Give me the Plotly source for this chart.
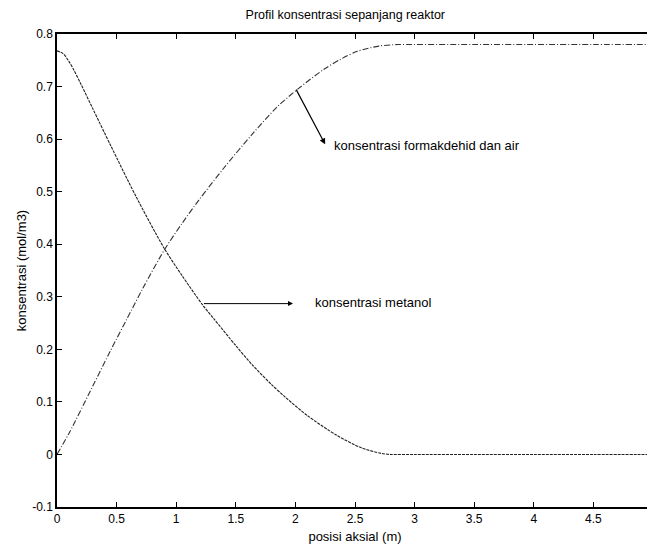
import plotly.graph_objects as go

# --- data ---
x_metanol = [0, 0.05, 0.1, 0.14, 0.2, 0.3, 0.45, 0.66, 0.9, 1.05, 1.22, 1.32, 1.5, 1.64,
             1.8, 1.92, 2.1, 2.35, 2.55, 2.72, 2.8, 3.0, 3.5, 4.0, 4.5, 5.0]
y_metanol = [0.768, 0.763, 0.748, 0.732, 0.705, 0.658, 0.588, 0.492, 0.392, 0.340, 0.285, 0.257,
             0.207, 0.170, 0.133, 0.108, 0.074, 0.036, 0.013, 0.002, 0.0, 0.0, 0.0, 0.0, 0.0, 0.0]

x_formal = [0, 0.1, 0.3, 0.45, 0.58, 0.72, 0.9, 1.05, 1.19, 1.4, 1.64, 1.85, 2.03, 2.24, 2.38,
            2.52, 2.7, 2.86, 3.0, 3.5, 4.0, 4.5, 5.0]
y_formal = [0.0, 0.040, 0.130, 0.198, 0.255, 0.316, 0.389, 0.440, 0.484, 0.545, 0.610, 0.662,
            0.697, 0.733, 0.752, 0.767, 0.777, 0.780, 0.780, 0.780, 0.780, 0.780, 0.780]

x_tickvals = [0, 0.5, 1, 1.5, 2, 2.5, 3, 3.5, 4, 4.5]
x_ticktext = ["0", "0.5", "1", "1.5", "2", "2.5", "3", "3.5", "4", "4.5"]
y_tickvals = [-0.1, 0, 0.1, 0.2, 0.3, 0.4, 0.5, 0.6, 0.7, 0.8]
y_ticktext = ["-0.1", "0", "0.1", "0.2", "0.3", "0.4", "0.5", "0.6", "0.7", "0.8"]

title_text = "Profil konsentrasi sepanjang reaktor"
xlabel = "posisi aksial (m)"
ylabel = "konsentrasi (mol/m3)"
label_metanol = "konsentrasi metanol"
label_formal = "konsentrasi formakdehid dan air"

FONT = "Liberation Sans, Arial, sans-serif"

fig = go.Figure()
fig.add_trace(go.Scatter(x=x_metanol, y=y_metanol, mode="lines", line_shape="spline",
                         line=dict(color="#222222", width=1.1, dash="3px,1px", smoothing=0.8),
                         name="metanol"))
fig.add_trace(go.Scatter(x=x_formal, y=y_formal, mode="lines", line_shape="spline",
                         line=dict(color="#333333", width=1.1, dash="6px,2px,1px,2px", smoothing=0.8),
                         name="formaldehid"))

# arrows
fig.add_annotation(x=1.98, y=0.287, ax=1.22, ay=0.287, xref="x", yref="y", axref="x", ayref="y",
                   showarrow=True, arrowhead=2, arrowsize=1, arrowwidth=1, arrowcolor="black", text="")
fig.add_annotation(x=2.25, y=0.59, ax=2.0, ay=0.697, xref="x", yref="y", axref="x", ayref="y",
                   showarrow=True, arrowhead=2, arrowsize=1, arrowwidth=1.2, arrowcolor="black", text="")
fig.add_annotation(x=2.15, y=0.289, text=label_metanol, showarrow=False, xanchor="left",
                   font=dict(family=FONT, size=13, color="black"))
fig.add_annotation(x=2.31, y=0.587, text=label_formal, showarrow=False, xanchor="left",
                   font=dict(family=FONT, size=13, color="black"))

fig.update_layout(
    width=655, height=548,
    margin=dict(l=49, r=10, t=26, b=49, autoexpand=False),
    paper_bgcolor="white", plot_bgcolor="white",
    showlegend=False,
    title=dict(text=title_text, x=0.515, xanchor="center", y=0.987, yanchor="middle",
               font=dict(family=FONT, size=12.5, color="black")),
    font=dict(family=FONT, size=12, color="black"),
)
fig.update_xaxes(range=[0, 5], tickvals=x_tickvals, ticktext=x_ticktext, automargin=False,
                 showgrid=False, zeroline=False, showline=True, linecolor="black", linewidth=1.5,
                 mirror="ticks", ticks="inside", ticklen=5, tickcolor="black",
                 title=dict(text=xlabel, standoff=7, font=dict(family=FONT, size=13)),
                 tickfont=dict(family=FONT, size=12))
fig.update_yaxes(range=[-0.1, 0.8], tickvals=y_tickvals, ticktext=y_ticktext, automargin=False,
                 showgrid=False, zeroline=False, showline=True, linecolor="black", linewidth=1.5,
                 mirror="ticks", ticks="inside", ticklen=5, tickcolor="black",
                 title=dict(text=ylabel, standoff=3, font=dict(family=FONT, size=13)),
                 tickfont=dict(family=FONT, size=12))

fig.write_html("out.html")
